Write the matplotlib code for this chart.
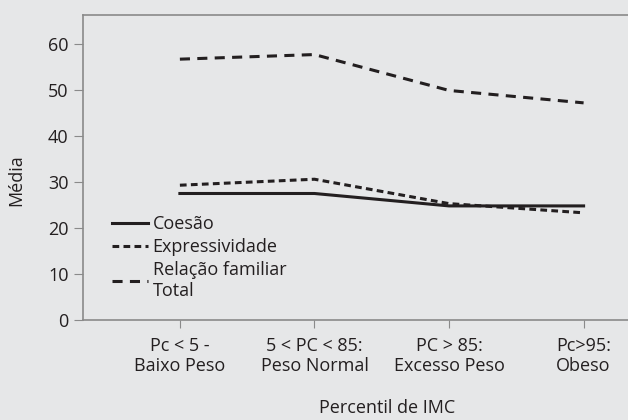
import numpy as np
import matplotlib.pyplot as plt

plt.rcParams['font.family'] = ['Open Sans', 'DejaVu Sans']

# categories and series
categorias = ["Pc < 5 -\nBaixo Peso", "5 < PC < 85:\nPeso Normal",
              "PC > 85:\nExcesso Peso", "Pc>95:\nObeso"]
coesao = [27.5, 27.5, 24.8, 24.8]
expressividade = [29.3, 30.6, 25.3, 23.3]
total = [56.7, 57.7, 49.9, 47.2]

bg = "#e6e7e8"
ink = "#231f20"
fig = plt.figure(figsize=(6.28, 4.2), dpi=100, facecolor=bg)
ax = fig.add_axes([83/628, 1 - 320/420, 545/628, 305/420], facecolor=bg)

x = np.arange(len(categorias))
ax.plot(x, coesao, color=ink, lw=2.2, ls="-", label="Coesão")
ax.plot(x, expressividade, color=ink, lw=2.2, ls=(0, (2.2, 1.4)),
        label="Expressividade")
ax.plot(x, total, color=ink, lw=2.2, ls=(0, (3.3, 2.4)),
        label="Relação familiar\nTotal")

ax.set_xlim(-0.72, 3.33)
ax.set_ylim(0, 66.3)
ax.set_yticks([0, 10, 20, 30, 40, 50, 60])
ax.set_xticks(x)
ax.set_xticklabels(categorias, linespacing=1.15)

ax.spines["right"].set_visible(False)
for s in ["left", "bottom", "top"]:
    ax.spines[s].set_color("#8a8a8a")
    ax.spines[s].set_linewidth(1.2)

ax.tick_params(axis="y", colors="#8a8a8a", labelcolor=ink,
               length=6.5, labelsize=13, pad=4)
ax.tick_params(axis="x", colors="#8a8a8a", labelcolor=ink,
               length=6, labelsize=13, pad=6)

ax.set_ylabel("Média", fontsize=13, color=ink)
ax.yaxis.set_label_coords(-0.106, 0.459)
ax.set_xlabel("Percentil de IMC", fontsize=13, color=ink, va="center")
ax.xaxis.set_label_coords(0.558, -0.289)

leg = ax.legend(loc="lower left", bbox_to_anchor=(0.053, 0.065), frameon=False,
                fontsize=13, handlelength=2.0, handletextpad=0.25,
                labelspacing=0.28, borderaxespad=0, borderpad=0)
for t in leg.get_texts():
    t.set_color(ink)

fig.savefig("out.png", dpi=100, facecolor=bg)
